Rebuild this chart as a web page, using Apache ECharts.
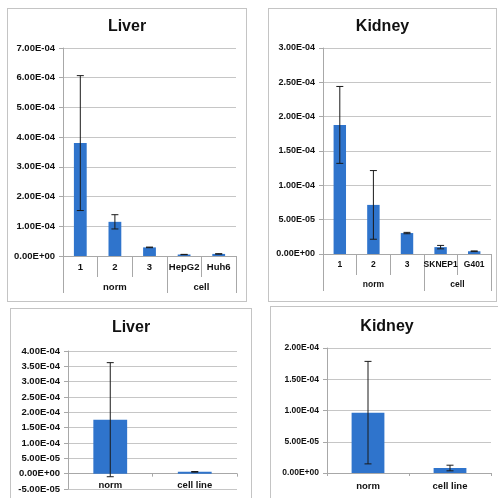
<!DOCTYPE html>
<html>
<head>
<meta charset="utf-8">
<script src="https://cdn.jsdelivr.net/npm/echarts@6/dist/echarts.min.js"></script>
<style>
  html, body { margin: 0; padding: 0; width: 498px; height: 498px; overflow: hidden; background: #fff; }
  .panel { position: absolute; box-sizing: border-box; border: 1px solid #c4c4c4; background: #fff; }
  #tl { left: 7px; top: 8px; width: 240px; height: 294px; }
  #tr { left: 268px; top: 8px; width: 229px; height: 294px; }
  #bl { left: 10px; top: 308px; width: 242px; height: 200px; }
  #br { left: 270px; top: 306px; width: 234px; height: 200px; }
</style>
</head>
<body>
<div id="tl" class="panel"></div>
<div id="tr" class="panel"></div>
<div id="bl" class="panel"></div>
<div id="br" class="panel"></div>
<script>
// top left: liver by sample
const liverCats = ['1', '2', '3', 'HepG2', 'Huh6']
const liverMean = [3.8e-4, 1.15e-4, 0.29e-4, 0.05e-4, 0.07e-4]
const liverErr = [2.27e-4, 0.24e-4, 0.01e-4, 0.005e-4, 0.007e-4]
const liverGroups = ['norm', 'cell']
const liverGroupSizes = [3, 2]

// top right: kidney by sample
const kidneyCats = ['1', '2', '3', 'SKNEP1', 'G401']
const kidneyMean = [1.88e-4, 0.715e-4, 0.305e-4, 0.10e-4, 0.04e-4]
const kidneyErr = [0.56e-4, 0.50e-4, 0.01e-4, 0.025e-4, 0.005e-4]
const kidneyGroups = ['norm', 'cell']
const kidneyGroupSizes = [3, 2]

// bottom: pooled
const pooledCats = ['norm', 'cell line']
const liverPoolMean = [1.76e-4, 0.06e-4]
const liverPoolErr = [1.86e-4, 0.01e-4]
const kidneyPoolMean = [0.966e-4, 0.08e-4]
const kidneyPoolErr = [0.82e-4, 0.045e-4]

const BAR = '#2f74cc'
const GRID_LINE = '#c6c6c6'
const AXIS_LINE = '#a8a8a8'
const FONT = 'Liberation Sans'

function sci(v) {
  if (Math.abs(v) < 1e-12) return '0.00E+00'
  const [m, e] = v.toExponential(2).split('e')
  const n = parseInt(e, 10)
  return m + 'E' + (n < 0 ? '-' : '+') + String(Math.abs(n)).padStart(2, '0')
}

function errorSeries(mean, err) {
  return {
    type: 'custom',
    z: 5,
    data: mean.map((m, i) => [i, m - err[i], m + err[i]]),
    renderItem(params, api) {
      const lo = api.coord([api.value(0), api.value(1)])
      const hi = api.coord([api.value(0), api.value(2)])
      const w = 3.5
      const style = { stroke: '#1a1a1a', lineWidth: 1 }
      return {
        type: 'group',
        children: [
          { type: 'line', shape: { x1: lo[0], y1: lo[1], x2: hi[0], y2: hi[1] }, style },
          { type: 'line', shape: { x1: hi[0] - w, y1: hi[1], x2: hi[0] + w, y2: hi[1] }, style },
          { type: 'line', shape: { x1: lo[0] - w, y1: lo[1], x2: lo[0] + w, y2: lo[1] }, style },
        ],
      }
    },
  }
}

function makeChart(id, o) {
  const chart = echarts.init(document.getElementById(id))
  const labelStyle = { color: '#111', fontSize: o.xFont, fontWeight: 'bold', fontFamily: FONT, interval: 0 }
  const xAxes = [{
    type: 'category',
    data: o.cats,
    axisLine: { onZero: true, lineStyle: { color: AXIS_LINE } },
    axisTick: { show: true, interval: 0, length: o.tickLen, lineStyle: { color: AXIS_LINE } },
    axisLabel: o.floatLabels ? { show: false } : { ...labelStyle, margin: o.labelMargin },
  }]
  if (o.floatLabels) {
    // label-only axis, shifted up to the zero line after layout
    xAxes.push({
      type: 'category',
      data: o.cats,
      position: 'bottom',
      axisLine: { show: false, onZero: false },
      axisTick: { show: false },
      axisLabel: { ...labelStyle, margin: o.labelMargin },
    })
  }
  if (o.groups) {
    // second axis carries the group row under the categories
    const bounds = [0]
    o.groupSizes.forEach(s => bounds.push(bounds[bounds.length - 1] + s))
    const centers = o.groups.map((g, i) => (bounds[i] + bounds[i + 1]) / 2)
    xAxes.push({
      type: 'value',
      min: 0,
      max: o.cats.length,
      position: 'bottom',
      axisLine: { show: false },
      splitLine: { show: false },
      axisTick: { show: true, customValues: bounds, length: 37, lineStyle: { color: AXIS_LINE } },
      axisLabel: {
        ...labelStyle, margin: 26,
        customValues: centers,
        formatter: v => o.groups[centers.findIndex(c => Math.abs(c - v) < 1e-6)] || '',
      },
    })
  }
  chart.setOption({
    animation: false,
    title: {
      text: o.title,
      left: 'center',
      top: o.titleTop,
      padding: 0,
      textStyle: { fontFamily: FONT, fontSize: 16, fontWeight: 'bold', color: '#111' },
    },
    grid: o.grid,
    xAxis: xAxes,
    yAxis: {
      type: 'value',
      min: o.min,
      max: o.max,
      interval: o.interval,
      axisLine: { show: true, lineStyle: { color: AXIS_LINE } },
      axisTick: { show: true, length: 4, lineStyle: { color: AXIS_LINE } },
      splitLine: { lineStyle: { color: GRID_LINE } },
      axisLabel: { color: '#111', fontSize: o.yFont, fontWeight: 'bold', fontFamily: FONT, margin: 8, formatter: sci },
    },
    series: [
      {
        type: 'bar',
        xAxisIndex: 0,
        data: o.mean,
        barWidth: o.barWidth,
        itemStyle: { color: BAR },
      },
      errorSeries(o.mean, o.err),
    ],
  })
  if (o.floatLabels) {
    const zeroY = chart.convertToPixel({ yAxisIndex: 0 }, 0)
    const bottomY = chart.convertToPixel({ yAxisIndex: 0 }, o.min)
    chart.setOption({ xAxis: [{}, { offset: zeroY - bottomY }] })
  }
  return chart
}

makeChart('tl', {
  title: 'Liver', titleTop: 10,
  cats: liverCats, mean: liverMean, err: liverErr,
  groups: liverGroups, groupSizes: liverGroupSizes,
  grid: { left: 55, right: 10, top: 39, bottom: 45 },
  min: 0, max: 7e-4, interval: 1e-4, yFont: 9.5, xFont: 9.5,
  tickLen: 21, labelMargin: 6, barWidth: '37%',
})

makeChart('tr', {
  title: 'Kidney', titleTop: 10,
  cats: kidneyCats, mean: kidneyMean, err: kidneyErr,
  groups: kidneyGroups, groupSizes: kidneyGroupSizes,
  grid: { left: 54, right: 5, top: 39, bottom: 47 },
  min: 0, max: 3e-4, interval: 0.5e-4, yFont: 9, xFont: 8.5,
  tickLen: 21, labelMargin: 6, barWidth: '37%',
})

makeChart('bl', {
  title: 'Liver', titleTop: 11,
  cats: pooledCats, mean: liverPoolMean, err: liverPoolErr,
  grid: { left: 57, right: 14, top: 42, bottom: 18 },
  min: -0.5e-4, max: 4e-4, interval: 0.5e-4, yFont: 9.5, xFont: 9.5,
  tickLen: 3, labelMargin: 7, barWidth: '40%', floatLabels: true,
})

makeChart('br', {
  title: 'Kidney', titleTop: 12,
  cats: pooledCats, mean: kidneyPoolMean, err: kidneyPoolErr,
  grid: { left: 56, right: 12, top: 41, bottom: 32 },
  min: 0, max: 2e-4, interval: 0.5e-4, yFont: 8.5, xFont: 9.5,
  tickLen: 3, labelMargin: 8, barWidth: '40%',
})
</script>
</body>
</html>
